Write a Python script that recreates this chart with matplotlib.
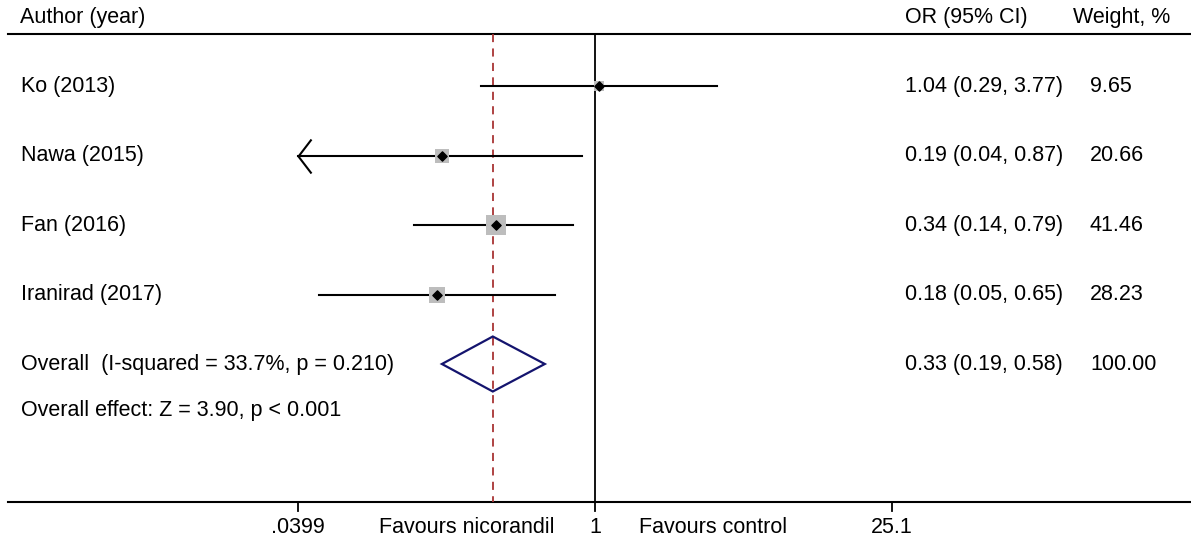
import numpy as np
import matplotlib.pyplot as plt
from matplotlib.path import Path
from matplotlib.patches import Polygon
from matplotlib.markers import MarkerStyle

plt.rcParams['font.family'] = ['Liberation Sans', 'DejaVu Sans']

# study data
authors = ["Ko (2013)", "Nawa (2015)", "Fan (2016)", "Iranirad (2017)"]
or_vals = [1.04, 0.19, 0.34, 0.18]
ci_lo = [0.29, 0.04, 0.14, 0.05]
ci_hi = [3.77, 0.87, 0.79, 0.65]
weights = [9.65, 20.66, 41.46, 28.23]

overall_or = 0.33
overall_lo = 0.19
overall_hi = 0.58
overall_label = "Overall  (I-squared = 33.7%, p = 0.210)"
effect_label = "Overall effect: Z = 3.90, p < 0.001"

tick_vals = [0.0399, 1, 25.1]
tick_labels = [".0399", "1", "25.1"]

W, H = 1191, 537
fig = plt.figure(figsize=(W / 100, H / 100), dpi=100)
ax = fig.add_axes([0, 0, 1, 1])
ax.set_axis_off()
ax.set_xscale('log')

# 1 sits at x=595 px, ~212 px per decade
ppd = 594 / (np.log10(25.1) - np.log10(0.0399))
ax.set_xlim(10 ** (-595 / ppd), 10 ** ((W - 595) / ppd))
pitch = 69.5
ax.set_ylim((H - 86) / pitch, -86 / pitch)

fs = 15.5
tx = ax.get_yaxis_transform()  # x in axes fraction, y in data
def px(x):
    return x / W

y_head = (18 - 86) / pitch
y_top = (34 - 86) / pitch
y_bot = (502 - 86) / pitch
y_tick = (511 - 86) / pitch
y_lab = (533 - 86) / pitch
y_effect = (410 - 86) / pitch
n = len(authors)
y_overall = n

# header
ax.text(px(20), y_head, "Author (year)", transform=tx, fontsize=fs, va='center')
ax.text(px(905), y_head, "OR (95% CI)", transform=tx, fontsize=fs, va='center')
ax.text(px(1073), y_head, "Weight, %", transform=tx, fontsize=fs, va='center')

# frame lines
ax.plot([px(8), 1], [y_top, y_top], transform=tx, color='black', lw=1.5, clip_on=False)
ax.plot([px(8), 1], [y_bot, y_bot], transform=tx, color='black', lw=1.5, clip_on=False)
ax.plot([1, 1], [y_top, y_bot], color='black', lw=1.3)
ax.plot([overall_or, overall_or], [y_top, y_bot], color='#a83434', lw=1.3,
        dashes=(4.5, 3.5))

# axis ticks
for v, lab in zip(tick_vals, tick_labels):
    ax.plot([v, v], [y_bot, y_tick], color='black', lw=1.3)
    ax.text(v, y_lab, lab, fontsize=fs, ha='center', va='baseline')
ax.text(px(467), y_lab, "Favours nicorandil", transform=tx, fontsize=fs,
        ha='center', va='baseline')
ax.text(px(713), y_lab, "Favours control", transform=tx, fontsize=fs,
        ha='center', va='baseline')

# open arrow head for truncated CI
arrow = MarkerStyle(Path([(13, 17), (0, 0), (13, -17)],
                         [Path.MOVETO, Path.LINETO, Path.LINETO]))

x_min = tick_vals[0]
for i in range(n):
    lo = max(ci_lo[i], x_min)
    ax.plot([lo, ci_hi[i]], [i, i], color='black', lw=1.5, zorder=2)
    if round(ci_lo[i], 2) <= round(x_min, 2):
        ax.plot([lo], [i], marker=arrow, ms=24.5, mfc='none', mec='black',
                mew=1.5, zorder=3)
    side = 2.97 * np.sqrt(weights[i]) * 0.72
    ax.scatter([or_vals[i]], [i], marker='s', s=side ** 2, color='#bdbdbd',
               linewidths=0, zorder=3)
    ax.scatter([or_vals[i]], [i], marker='D', s=22, color='black', zorder=4)
    ax.text(px(21), i, authors[i], transform=tx, fontsize=fs, va='center')
    ax.text(px(905), i, "%.2f (%.2f, %.2f)" % (or_vals[i], ci_lo[i], ci_hi[i]),
            transform=tx, fontsize=fs, va='center')
    ax.text(px(1090), i, "%.2f" % weights[i], transform=tx, fontsize=fs, va='center')

# overall diamond
hh = 27.5 / pitch
ax.add_patch(Polygon([(overall_lo, y_overall), (overall_or, y_overall - hh),
                      (overall_hi, y_overall), (overall_or, y_overall + hh)],
                     closed=True, fill=False, edgecolor='#14146e', lw=1.6, zorder=5))
ax.text(px(21), y_overall, overall_label, transform=tx, fontsize=fs, va='center')
ax.text(px(905), y_overall, "%.2f (%.2f, %.2f)" % (overall_or, overall_lo, overall_hi),
        transform=tx, fontsize=fs, va='center')
ax.text(px(1090), y_overall, "%.2f" % sum(weights), transform=tx, fontsize=fs, va='center')
ax.text(px(21), y_effect, effect_label, transform=tx, fontsize=fs, va='center')

fig.savefig("out.png", dpi=100)
